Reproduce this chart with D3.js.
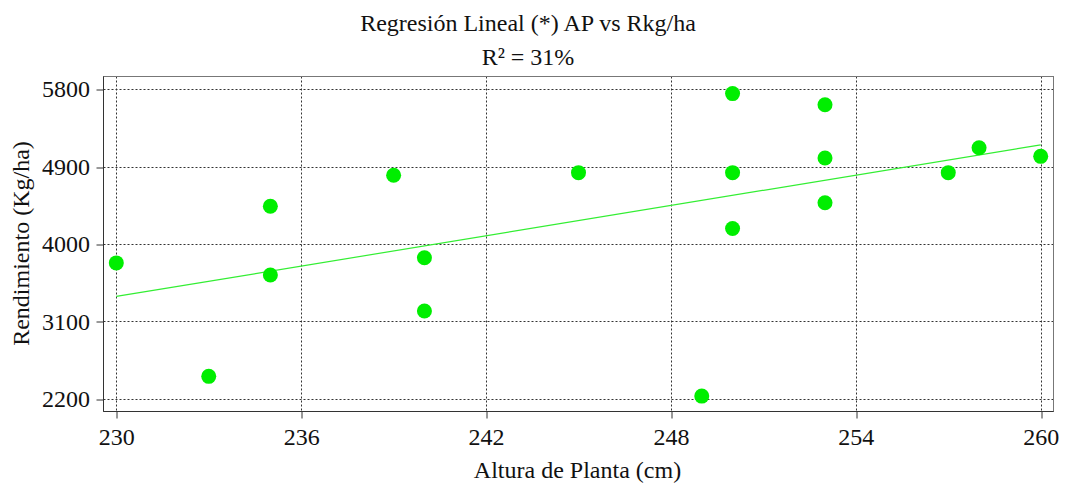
<!DOCTYPE html>
<html>
<head>
<meta charset="utf-8">
<script src="https://cdn.jsdelivr.net/npm/d3@7"></script>
<style>
    body { margin: 0; background: #fff; }
    .grid line { stroke: #333; stroke-dasharray: 2,2; stroke-width: 1; }
</style>
</head>
<body>
<svg width="1067" height="483"></svg>
<script>
// Altura de planta (cm) y rendimiento (kg/ha)
const altura = [230, 233, 235, 235, 239, 240, 240, 245, 249, 250, 250, 250, 253, 253, 253, 257, 258, 260];
const rendimiento = [3780, 2460, 4440, 3640, 4800, 3840, 3220, 4830, 2230, 5750, 4830, 4180, 5620, 5000, 4480, 4830, 5120, 5020];
const xTicks = [230, 236, 242, 248, 254, 260];
const yTicks = [2200, 3100, 4000, 4900, 5800];

const FONT = '"Liberation Serif"';

const svg = d3.select("svg"),
    width = +svg.attr("width"),
    height = +svg.attr("height");

const frame = { left: 103.5, right: 1053.5, top: 76.5, bottom: 411.5 };

const x = d3.scaleLinear().domain([230, 260]).range([116.3, 1040.7]);
const y = d3.scaleLinear().domain([2200, 5800]).range([398.7, 89.3]);

// least squares fit
const mx = d3.mean(altura), my = d3.mean(rendimiento);
let sxy = 0, sxx = 0;
altura.forEach((a, i) => { sxy += (a - mx) * (rendimiento[i] - my); sxx += (a - mx) * (a - mx); });
const slope = sxy / sxx, intercept = my - slope * mx;

// grid
const grid = svg.append("g").attr("class", "grid");
grid.selectAll(".gx").data(xTicks).enter().append("line")
    .attr("x1", d => Math.round(x(d)) + 0.5).attr("x2", d => Math.round(x(d)) + 0.5)
    .attr("y1", frame.top).attr("y2", frame.bottom);
grid.selectAll(".gy").data(yTicks).enter().append("line")
    .attr("y1", d => Math.round(y(d)) + 0.5).attr("y2", d => Math.round(y(d)) + 0.5)
    .attr("x1", frame.left).attr("x2", frame.right);

// frame
svg.append("rect")
    .attr("x", frame.left).attr("y", frame.top)
    .attr("width", frame.right - frame.left).attr("height", frame.bottom - frame.top)
    .attr("fill", "none").attr("stroke", "#777").attr("stroke-width", 1);
svg.append("line").attr("x1", frame.left).attr("x2", frame.right)
    .attr("y1", frame.bottom).attr("y2", frame.bottom).attr("stroke", "#333");
svg.append("line").attr("x1", frame.left).attr("x2", frame.left)
    .attr("y1", frame.top).attr("y2", frame.bottom).attr("stroke", "#333");

// axes
const xAxis = svg.append("g")
    .attr("transform", `translate(0,${frame.bottom})`)
    .call(d3.axisBottom(x).tickValues(xTicks).tickSize(7).tickPadding(9.5).tickFormat(d3.format("d")));
xAxis.attr("font-family", null);
xAxis.select(".domain").remove();
xAxis.selectAll("line").attr("stroke", "#333").attr("transform", d => `translate(${Math.round(x(d)) + 0.5 - x(d)},0)`);
xAxis.selectAll("text").style("font-size", "24px").style("font-family", FONT).attr("fill", "#111");

const yAxis = svg.append("g")
    .attr("transform", `translate(${frame.left},0)`)
    .call(d3.axisLeft(y).tickValues(yTicks).tickSize(7).tickPadding(6.5).tickFormat(d3.format("d")));
yAxis.attr("font-family", null);
yAxis.select(".domain").remove();
yAxis.selectAll("line").attr("stroke", "#333").attr("transform", d => `translate(0,${Math.round(y(d)) + 0.5 - y(d)})`);
yAxis.selectAll("text").style("font-size", "24px").style("font-family", FONT).attr("fill", "#111");

// regression line
svg.append("line")
    .attr("x1", x(230)).attr("y1", y(intercept + slope * 230))
    .attr("x2", x(260)).attr("y2", y(intercept + slope * 260))
    .attr("stroke", "#33ee33").attr("stroke-width", 1.2);

// points
svg.append("g").selectAll("circle")
    .data(altura.map((a, i) => ({ a: a, r: rendimiento[i] })))
    .enter().append("circle")
    .attr("cx", d => x(d.a))
    .attr("cy", d => y(d.r))
    .attr("r", 7.5)
    .attr("fill", "#00ee00");

// titles
function label(xp, yp, txt) {
    return svg.append("text").attr("x", xp).attr("y", yp).attr("text-anchor", "middle")
        .style("font-family", FONT).style("font-size", "24px").attr("fill", "#111").text(txt);
}
label(528, 30.5, "Regresión Lineal (*) AP vs Rkg/ha");
label(528, 64.5, "R² = 31%");
label(577.5, 478, "Altura de Planta (cm)");
label(0, 0, "Rendimiento (Kg/ha)")
    .attr("transform", `translate(29,243.5) rotate(-90)`);
</script>
</body>
</html>
